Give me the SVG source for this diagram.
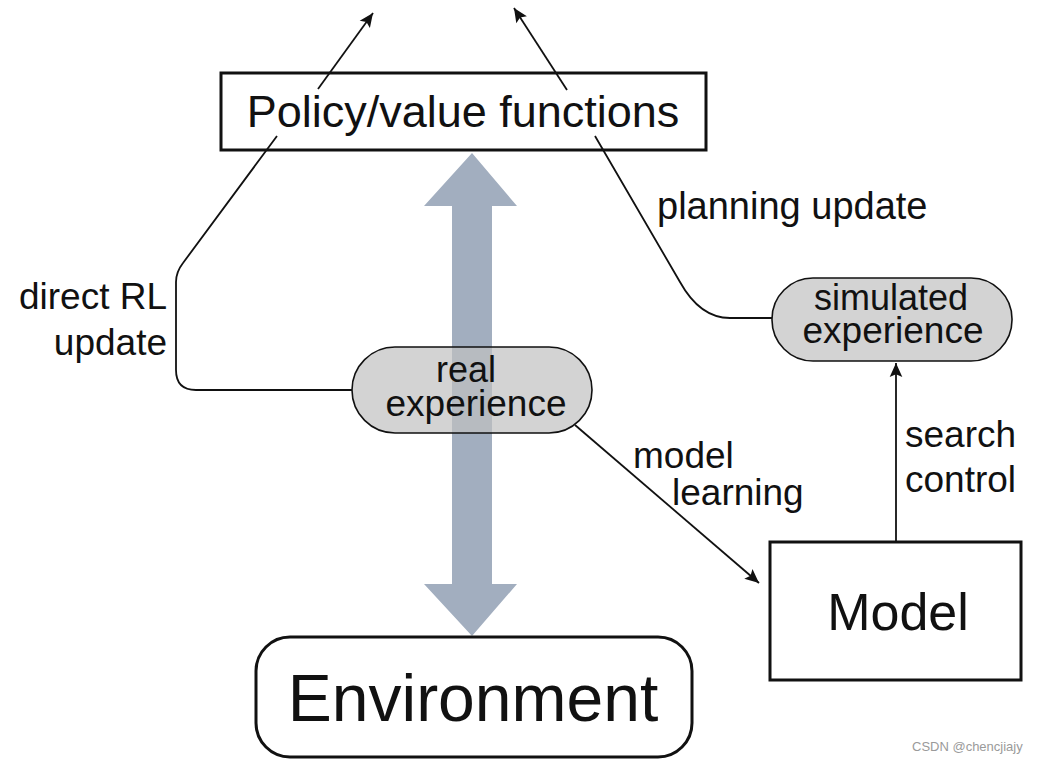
<svg xmlns="http://www.w3.org/2000/svg" width="1058" height="764" viewBox="0 0 1058 764">
  <defs>
    <marker id="ahb" viewBox="0 0 10 10" refX="10" refY="5" markerWidth="20" markerHeight="14" markerUnits="userSpaceOnUse" orient="auto">
      <path d="M0,0.5 L10,5 L0,9.5 L2,5 Z" fill="#111"/>
    </marker>
    <style>
      .t { font-family: "Liberation Sans", Arial, sans-serif; fill: #111; }
      .box { fill: #fff; stroke: #111; stroke-width: 3; }
      .pill { fill: #c0c0c0; fill-opacity: 0.7; stroke: #111; stroke-width: 1.6; }
      .con { fill: none; stroke: #111; stroke-width: 1.8; }
      .lbl { font-size: 37px; }
      .pl { font-size: 36px; }
    </style>
  </defs>
  <rect width="1058" height="764" fill="#fff"/>

  <!-- big two-headed arrow -->
  <g id="big-arrow">
    <polygon points="472,153 517,206 492,206 492,584 517,584 472,636 424,584 452,584 452,206 424,206" fill="#a2aebf"/>
  </g>

  <g id="policy">
    <rect class="box" x="221" y="73" width="485" height="77"/>
    <text class="t" x="463" y="127" font-size="45" text-anchor="middle">Policy/value functions</text>
  </g>

  <g id="real-experience">
    <rect class="pill" x="352" y="347" width="240" height="86" rx="43" ry="43"/>
    <text class="t pl" x="466" y="382" text-anchor="middle">real</text>
    <text class="t lbl" x="476" y="416" text-anchor="middle">experience</text>
  </g>

  <g id="simulated-experience">
    <rect class="pill" x="772" y="278" width="240" height="83" rx="41" ry="41"/>
    <text class="t pl" x="891" y="310" text-anchor="middle">simulated</text>
    <text class="t lbl" x="893" y="343" text-anchor="middle">experience</text>
  </g>

  <g id="environment">
    <rect class="box" x="256" y="637" width="436" height="120" rx="34" ry="34"/>
    <text class="t" x="473" y="721" font-size="66" text-anchor="middle">Environment</text>
  </g>

  <g id="model">
    <rect class="box" x="770" y="542" width="251" height="138"/>
    <text class="t" x="898" y="630" font-size="52" text-anchor="middle">Model</text>
  </g>

  <g id="connectors">
    <!-- direct RL update -->
    <path class="con" d="M352,390 L196,390 Q176,390 176,370 L176,282 Q176,272 183,263 L277,136"/>
    <path class="con" d="M318,89 L373,13" marker-end="url(#ahb)"/>
    <!-- planning update -->
    <path class="con" d="M772,318 L730,318 Q700,318 680,282 L595,136"/>
    <path class="con" d="M567,90 L514,8" marker-end="url(#ahb)"/>
    <!-- model learning -->
    <path class="con" d="M575,425 L759,583" marker-end="url(#ahb)"/>
    <!-- search control -->
    <path class="con" d="M896,542 L896,363" marker-end="url(#ahb)"/>
  </g>

  <g id="labels">
    <text class="t lbl" x="167" y="309" text-anchor="end">direct RL</text>
    <text class="t lbl" x="167" y="355" text-anchor="end">update</text>
    <text class="t" x="657" y="219" font-size="38">planning update</text>
    <text class="t lbl" x="633" y="468">model</text>
    <text class="t lbl" x="672" y="505">learning</text>
    <text class="t lbl" x="905" y="447">search</text>
    <text class="t lbl" x="905" y="492">control</text>
  </g>

  <text x="912" y="751" font-family="Liberation Sans, Arial, sans-serif" font-size="13" fill="#9a9a9a">CSDN @chencjiajy</text>
</svg>
